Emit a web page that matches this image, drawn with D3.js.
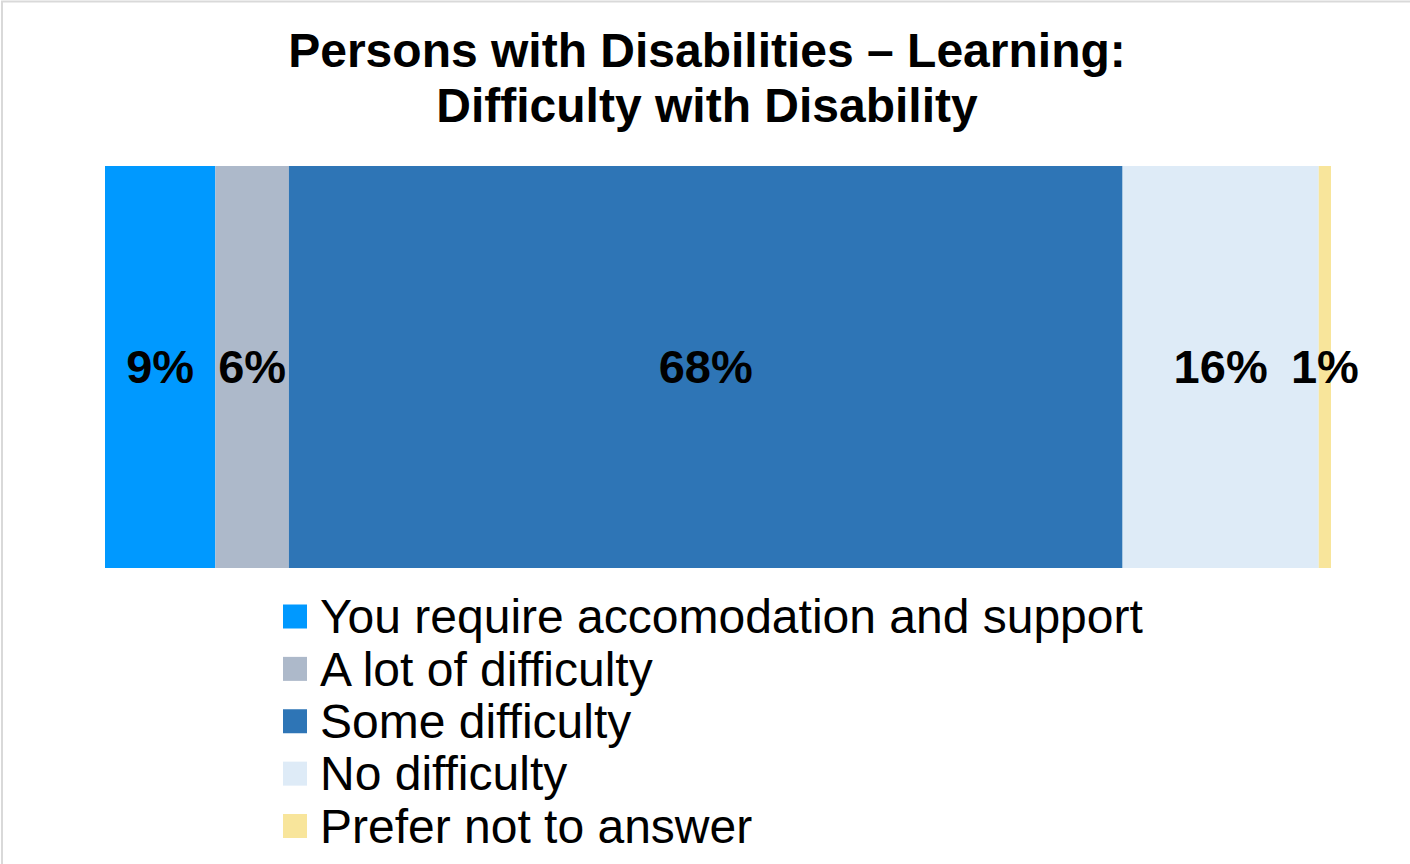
<!DOCTYPE html>
<html>
<head>
<meta charset="utf-8">
<script src="https://cdn.jsdelivr.net/npm/d3@7/dist/d3.min.js"></script>
<style>
  html, body { margin: 0; padding: 0; background: #fff; }
  svg { display: block; }
  text { font-family: Arial, "Liberation Sans", sans-serif; }
</style>
</head>
<body>
<svg id="chart" width="1410" height="864"></svg>
<script>
// Response categories, their shares (%) and fill colours
const categories = [
  "You require accomodation and support",
  "A lot of difficulty",
  "Some difficulty",
  "No difficulty",
  "Prefer not to answer"
];
const values = [9, 6, 68, 16, 1];
const colors = ["#0099FF", "#ADB9CA", "#2E75B6", "#DEEBF7", "#F8E59B"];
const titleLines = ["Persons with Disabilities \u2013 Learning:", "Difficulty with Disability"];

const svg = d3.select("#chart");
const W = 1410, H = 864;

// chart frame
svg.append("rect")
  .attr("x", 2).attr("y", 1.5)
  .attr("width", W + 10).attr("height", H + 10)
  .attr("fill", "#fff")
  .attr("stroke", "#d9d9d9")
  .attr("stroke-width", 2);

// title
svg.append("text")
  .attr("text-anchor", "middle")
  .attr("font-weight", "bold")
  .attr("font-size", 48)
  .attr("fill", "#000")
  .selectAll("tspan")
  .data(titleLines)
  .join("tspan")
  .attr("x", 707)
  .attr("y", (d, i) => 67 + i * 55)
  .text(d => d);

// stacked bar
const stacked = [];
let acc = 0;
values.forEach((v, i) => {
  stacked.push({ cat: categories[i], value: v, x0: acc, x1: acc + v, color: colors[i] });
  acc += v;
});

const x = d3.scaleLinear().domain([0, d3.sum(values)]).range([105, 1331]);
const y = d3.scaleBand().domain(["Learning"]).range([166, 568]).padding(0);

svg.append("g")
  .selectAll("rect")
  .data(stacked)
  .join("rect")
  .attr("x", d => x(d.x0))
  .attr("y", y("Learning"))
  .attr("width", d => x(d.x1) - x(d.x0))
  .attr("height", y.bandwidth())
  .attr("fill", d => d.color);

// value labels centred on each segment
svg.append("g")
  .selectAll("text")
  .data(stacked)
  .join("text")
  .attr("x", d => x((d.x0 + d.x1) / 2))
  .attr("y", y("Learning") + y.bandwidth() / 2)
  .attr("dy", "0.35em")
  .attr("text-anchor", "middle")
  .attr("font-weight", "bold")
  .attr("font-size", 47)
  .attr("fill", "#000")
  .text(d => d.value + "%");

// legend
const legendRow = d3.scalePoint().domain(categories).range([616.5, 826]);
const legend = svg.append("g")
  .selectAll("g")
  .data(stacked)
  .join("g")
  .attr("transform", d => `translate(283, ${legendRow(d.cat)})`);

legend.append("rect")
  .attr("x", 0).attr("y", -12)
  .attr("width", 24).attr("height", 24)
  .attr("fill", d => d.color);

legend.append("text")
  .attr("x", 37)
  .attr("y", 0)
  .attr("dy", "0.35em")
  .attr("font-size", 48)
  .attr("fill", "#000")
  .text(d => d.cat);
</script>
</body>
</html>
